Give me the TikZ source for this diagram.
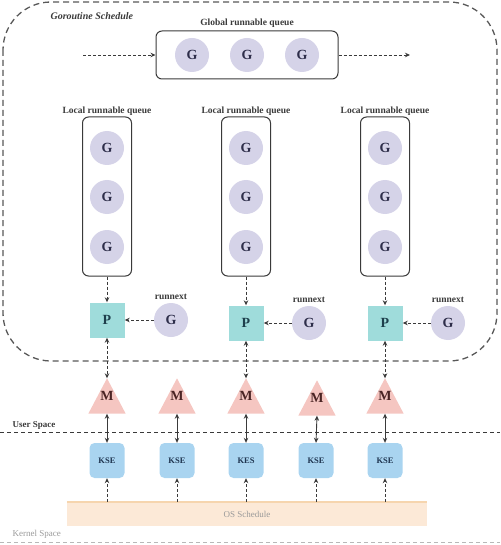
\documentclass[tikz,border=0pt]{standalone}
\usepackage{fontspec}
\setmainfont{Liberation Serif}
\usetikzlibrary{arrows.meta,backgrounds}
\definecolor{gfill}{HTML}{D5D3E8}
\definecolor{gtext}{HTML}{2E2E4A}
\definecolor{pfill}{HTML}{9FDCDB}
\definecolor{ptext}{HTML}{1E3F4C}
\definecolor{mfill}{HTML}{F5C6C1}
\definecolor{mtext}{HTML}{4A2424}
\definecolor{kfill}{HTML}{A9D4F0}
\definecolor{ktext}{HTML}{1F3550}
\definecolor{osfill}{HTML}{FCE9D7}
\definecolor{osedge}{HTML}{F6D5AE}
\definecolor{linec}{HTML}{3A3A3A}
\definecolor{grayt}{HTML}{9A9A9A}
\begin{document}
\begin{tikzpicture}[x=1pt,y=-1pt,
  gnode/.style={circle, fill=gfill, minimum size=34pt, inner sep=0pt, text=gtext, font=\fontsize{14}{16}\selectfont\bfseries},
  pnode/.style={rectangle, fill=pfill, minimum size=35pt, inner sep=0pt, text=ptext, font=\fontsize{14}{16}\selectfont\bfseries},
  mbox/.style={rectangle, minimum width=37pt, minimum height=35pt, inner sep=0pt, text=mtext, font=\fontsize{14}{16}\selectfont\bfseries},
  kbox/.style={rectangle, rounded corners=5pt, fill=kfill, minimum size=35pt, inner sep=0pt, text=ktext, font=\fontsize{8.5}{10}\selectfont\bfseries},
  qbox/.style={rectangle, rounded corners=6pt, draw=linec, line width=1pt, inner sep=0pt},
  lbl/.style={font=\fontsize{9.5}{11}\selectfont\bfseries, text=linec},
  dar/.style={draw=linec, line width=0.8pt, dash pattern=on 3pt off 2pt, -{Stealth[length=5pt,width=4.5pt]}},
  ddar/.style={draw=linec, line width=0.8pt, dash pattern=on 3pt off 2pt, {Stealth[length=5pt,width=4.5pt]}-{Stealth[length=5pt,width=4.5pt]}},
  sar/.style={draw=linec, line width=0.9pt, {Stealth[length=5pt,width=4.5pt]}-{Stealth[length=5pt,width=4.5pt]}},
  sepline/.style={line width=0.8pt, dash pattern=on 4pt off 3pt}
]
\useasboundingbox (0,0) rectangle (500,545);

% Goroutine schedule boundary
\draw[draw=linec!85, line width=1.3pt, dash pattern=on 6pt off 4pt, rounded corners=48pt] (3,2) rectangle (497,361);
\node[anchor=west, font=\fontsize{10}{12}\selectfont\bfseries\itshape, text=linec] (gs) at (47,16) {Goroutine Schedule};

% Global runnable queue
\node[lbl] (glbl) at (247,23) {Global runnable queue};
\node[qbox, minimum width=182pt, minimum height=48pt] (gq) at (247,55) {};
\node[gnode] (gg1) at (192,55) {G};
\node[gnode] (gg2) at (247,55) {G};
\node[gnode] (gg3) at (302,55) {G};
\coordinate (gin) at (83,55);
\coordinate (gout) at (410,55);
\draw[dar] (gin) -- (gq.west);
\draw[dar] (gq.east) -- (gout);

% Local queues
\foreach \i/\x/\py/\rx in {1/107/320/171, 2/246/323/309, 3/385/323/448}{
  \node[lbl] (ll\i) at (\x,111) {Local runnable queue};
  \node[qbox, minimum width=49pt, minimum height=159pt] (lq\i) at (\x,196.5) {};
  \node[gnode] (lg\i a) at (\x,148) {G};
  \node[gnode] (lg\i b) at (\x,197) {G};
  \node[gnode] (lg\i c) at (\x,247) {G};
  \node[pnode] (p\i) at (\x,\py) {P};
  \node[gnode] (rn\i) at (\rx,\py) {G};
  \node[lbl] (rl\i) at (\rx,\py-23) {runnext};
  \draw[dar] (lq\i.south) -- (p\i.north);
  \draw[dar] (rn\i.west) -- (p\i.east);
}

% M threads
\node[mbox] (m1) at (107,396) {M};
\node[mbox] (m2) at (177,396) {M};
\node[mbox] (m3) at (246,396) {M};
\node[mbox] (m4) at (317,398) {M};
\node[mbox] (m5) at (385,396) {M};
\begin{scope}[on background layer]
  \foreach \i in {1,...,5}{
    \fill[mfill] (m\i.south west) -- (m\i.south east) -- (m\i.north) -- cycle;
  }
\end{scope}
\draw[ddar] (p1.south) -- (m1.north);
\draw[ddar] (p2.south) -- (m3.north);
\draw[ddar] (p3.south) -- (m5.north);

% User space line
\draw[sepline, draw=linec] (0,432) -- (500,432);
\node[anchor=west, font=\fontsize{9}{11}\selectfont\bfseries, text=linec] (us) at (9,425) {User Space};

% KSE
\node[kbox] (k1) at (107,460.5) {KSE};
\node[kbox] (k2) at (177,460.5) {KSE};
\node[kbox] (k3) at (246,460.5) {KES};
\node[kbox] (k4) at (316,460.5) {KSE};
\node[kbox] (k5) at (385,460.5) {KSE};
\foreach \i in {1,...,5}{
  \draw[sar] (m\i.south) -- (k\i.north);
}

% OS schedule
\node[rectangle, fill=osfill, minimum width=360pt, minimum height=24pt, inner sep=0pt, text=grayt, font=\fontsize{9}{11}\selectfont] (os) at (247,514) {OS Schedule};
\draw[osedge, line width=2.5pt] (os.north west) -- (os.north east);
\foreach \i in {1,...,5}{
  \draw[dar] (os.north -| k\i) -- (k\i.south);
}

% Kernel space
\draw[sepline, draw=grayt!70] (0,542) -- (500,542);
\node[anchor=west, font=\fontsize{9}{11}\selectfont, text=grayt] (ks) at (9,534) {Kernel Space};
\end{tikzpicture}
\end{document}
